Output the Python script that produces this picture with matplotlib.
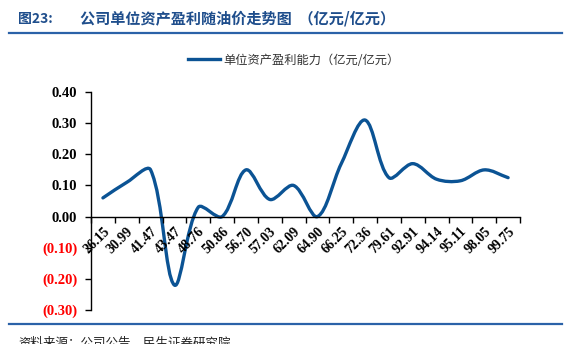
import matplotlib
matplotlib.use('Agg')
import matplotlib.pyplot as plt
from matplotlib.path import Path
from matplotlib.patches import PathPatch
from matplotlib.lines import Line2D
import numpy as np

plt.rcParams['font.family'] = ['Noto Sans CJK SC', 'DejaVu Sans']

# oil price buckets (x categories) and asset profitability
oil_prices = ['26.15', '30.99', '41.47', '43.47', '48.76', '50.86', '56.70',
              '57.03', '62.09', '64.90', '66.25', '72.36', '79.61', '92.91',
              '94.14', '95.11', '98.05', '99.75']
profit = [0.06, 0.11, 0.15, -0.22, 0.03, 0.00, 0.15, 0.055, 0.10, 0.00,
          0.17, 0.31, 0.125, 0.17, 0.12, 0.115, 0.15, 0.125]
y_ticks = [0.40, 0.30, 0.20, 0.10, 0.00, -0.10, -0.20, -0.30]

LINE_COLOR = '#0B5394'
TITLE_COLOR = '#1F4E8C'
RULE_COLOR = '#2B62A8'


def smooth_path(xs, ys, sx=1.0, sy=1.0):
    """Cubic Bezier path through the points, tangents weighted by segment length.

    sx/sy give the on-screen size of one data unit so the smoothing
    behaves the same way as a spreadsheet 'smoothed line'.
    """
    pts = np.column_stack([np.asarray(xs, float) * sx, np.asarray(ys, float) * sy])
    n = len(pts)
    verts = [pts[0]]
    codes = [Path.MOVETO]
    for i in range(n - 1):
        p0 = pts[i - 1] if i > 0 else pts[i]
        p1 = pts[i]
        p2 = pts[i + 1]
        p3 = pts[i + 2] if i + 2 < n else pts[i + 1]
        d01 = np.hypot(*(p1 - p0))
        d12 = np.hypot(*(p2 - p1))
        d23 = np.hypot(*(p3 - p2))
        f1 = d12 / (d01 + d12) if d01 + d12 > 0 else 0
        f2 = d12 / (d12 + d23) if d12 + d23 > 0 else 0
        c1 = p1 + (p2 - p0) * f1 / 3 * 1.0
        c2 = p2 - (p3 - p1) * f2 / 3 * 1.0
        verts += [c1, c2, p2]
        codes += [Path.CURVE4] * 3
    verts = np.array(verts) / np.array([sx, sy])
    return Path(verts, codes)


fig = plt.figure(figsize=(5.71, 3.44), dpi=100)
ax = fig.add_axes([0.1594, 0.0988, 0.7513, 0.6337])

x = np.arange(len(oil_prices))
path = smooth_path(x, profit, sx=23.8, sy=310.0)
ax.add_patch(PathPatch(path, facecolor='none', edgecolor=LINE_COLOR,
                       lw=2.4, capstyle='round', joinstyle='round'))

ax.set_xlim(-0.5, len(oil_prices) - 0.5)
ax.set_ylim(-0.30, 0.40)

for s in ['top', 'right']:
    ax.spines[s].set_visible(False)
ax.spines['bottom'].set_position(('data', 0))
ax.spines['left'].set_linewidth(1.0)
ax.spines['bottom'].set_linewidth(1.0)

ax.set_yticks(y_ticks)
ylabels = []
for v in y_ticks:
    ylabels.append(f'{v:.2f}' if v >= 0 else f'({abs(v):.2f})')
ax.set_yticklabels(ylabels, family=['Liberation Serif'], fontweight='bold',
                   fontsize=10.5)
for lbl, v in zip(ax.get_yticklabels(), y_ticks):
    if v < 0:
        lbl.set_color('#FF0000')
ax.tick_params(axis='y', direction='out', length=4, width=1, pad=6)

# category labels at centres, tick marks at the boundaries
ax.set_xticks(x)
ax.set_xticklabels(oil_prices, rotation=45, ha='right', va='top',
                   rotation_mode='anchor', family=['Liberation Serif'],
                   fontweight='bold', fontsize=10)
ax.tick_params(axis='x', which='major', length=0, pad=6)
ax.set_xticks(np.arange(-0.5, len(oil_prices)), minor=True)
ax.tick_params(axis='x', which='minor', direction='out', length=4, width=1)

# legend
handle = Line2D([], [], color=LINE_COLOR, lw=2.4)
fig.legend([handle], ['单位资产盈利能力（亿元/亿元）'], loc='center',
           bbox_to_anchor=(0.515, 0.825), frameon=False, fontsize=8.8,
           handlelength=2.6, handletextpad=0.3, labelcolor='#333333')

# header and footer
fig.text(0.032, 0.945, '图23:', fontsize=10, fontweight='bold',
         color=TITLE_COLOR, va='center')
fig.text(0.14, 0.945, '公司单位资产盈利随油价走势图  （亿元/亿元）', fontsize=10.9,
         fontweight='bold', color=TITLE_COLOR, va='center')
fig.add_artist(Line2D([0.016, 0.984], [0.904, 0.904], color=RULE_COLOR,
                      lw=1.6, transform=fig.transFigure))
fig.add_artist(Line2D([0.016, 0.984], [0.058, 0.058], color=RULE_COLOR,
                      lw=1.6, transform=fig.transFigure))
fig.text(0.032, 0.003, '资料来源：公司公告，民生证券研究院', fontsize=9,
         color='#222222', va='center')

fig.savefig('out.png', dpi=100)
